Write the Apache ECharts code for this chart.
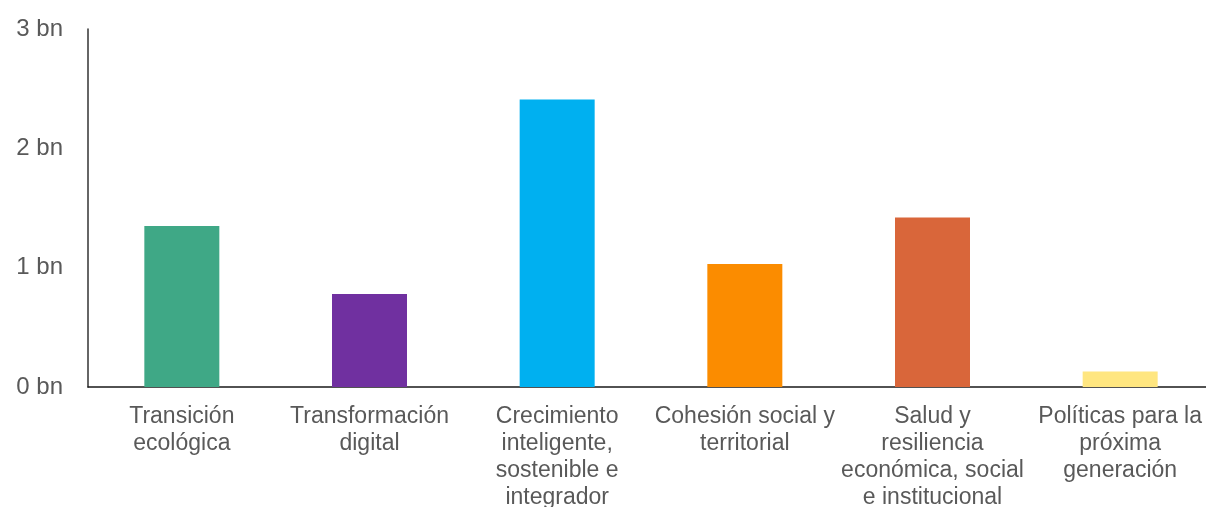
<!DOCTYPE html>
<html><head><meta charset="utf-8">
<script src="https://cdn.jsdelivr.net/npm/echarts@6/dist/echarts.min.js"></script>
<style>html,body{margin:0;padding:0;background:#fff;overflow:hidden}#c{width:1230px;height:507px}</style>
</head><body><div id="c"></div>
<script>
const categories = [
  "Transición\necológica",
  "Transformación\ndigital",
  "Crecimiento\ninteligente,\nsostenible e\nintegrador",
  "Cohesión social y\nterritorial",
  "Salud y\nresiliencia\neconómica, social\ne institucional",
  "Políticas para la\npróxima\ngeneración"
];
const values = [1.35, 0.78, 2.41, 1.03, 1.42, 0.13];
const barColors = ["#3FA886", "#7030A0", "#00B0F0", "#FB8C00", "#D9663A", "#FFE680"];
const yTicks = [0, 1, 2, 3];

const chart = echarts.init(document.getElementById('c'));
chart.setOption({
  animation: false,
  grid: { left: 88, top: 29, width: 1126, height: 358, containLabel: false, outerBoundsMode: 'none' },
  xAxis: {
    type: 'category',
    data: categories,
    axisLine: { lineStyle: { color: '#1a1a1a', width: 1.5 } },
    axisTick: { show: false },
    axisLabel: {
      interval: 0, color: '#595959', fontSize: 23, lineHeight: 27, margin: 16,
      fontFamily: 'Liberation Sans, Arial, sans-serif'
    }
  },
  yAxis: {
    type: 'value', min: 0, max: 3, interval: 1,
    axisLine: { show: true, lineStyle: { color: '#333', width: 1.5 } },
    axisTick: { show: false },
    splitLine: { show: false },
    axisLabel: {
      color: '#595959', fontSize: 24, margin: 25,
      fontFamily: 'Liberation Sans, Arial, sans-serif',
      formatter: v => yTicks.includes(v) ? v + ' bn' : ''
    }
  },
  series: [{
    type: 'bar',
    barWidth: 75,
    data: values.map((v, i) => ({ value: v, itemStyle: { color: barColors[i] } }))
  }]
});
</script></body></html>
